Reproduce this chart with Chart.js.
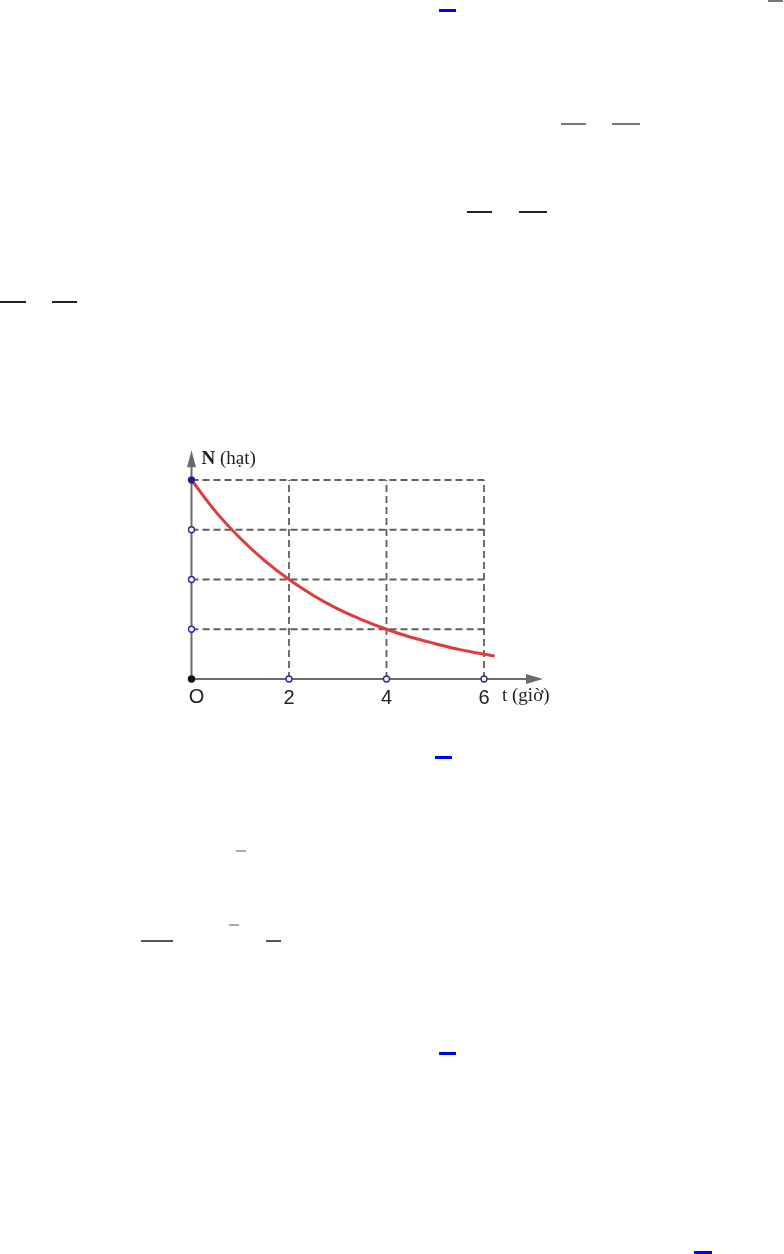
<!DOCTYPE html>
<html>
<head>
<meta charset="utf-8">
<script src="https://cdn.jsdelivr.net/npm/chart.js"></script>
<style>
  html, body { margin: 0; padding: 0; background: #fff; }
  body { width: 784px; height: 1254px; position: relative; overflow: hidden; }
  #wrap { position: absolute; left: 160px; top: 440px; width: 410px; height: 280px; }
  .bar { position: absolute; height: 2px; background: #777; }
  .blue { background: #0000ff; height: 3px; }
  .dark { background: #222; }
  .light { background: #aaa; }
</style>
</head>
<body>
<!-- leftover strokes of the page around the figure -->
<div class="bar blue" style="left:439px;top:9px;width:17px"></div>
<div class="bar" style="left:768px;top:0px;width:15px"></div>
<div class="bar" style="left:561px;top:123px;width:25px"></div>
<div class="bar" style="left:612px;top:123px;width:28px"></div>
<div class="bar dark" style="left:467px;top:211px;width:25px"></div>
<div class="bar dark" style="left:519px;top:211px;width:28px"></div>
<div class="bar dark" style="left:0px;top:301px;width:26px"></div>
<div class="bar dark" style="left:52px;top:301px;width:25px"></div>
<div class="bar blue" style="left:435px;top:756px;width:17px"></div>
<div class="bar light" style="left:236px;top:850px;width:10px"></div>
<div class="bar light" style="left:229px;top:924px;width:10px"></div>
<div class="bar" style="left:141px;top:940px;width:32px;background:#555"></div>
<div class="bar" style="left:266px;top:940px;width:15px;background:#555"></div>
<div class="bar blue" style="left:439px;top:1052px;width:17px"></div>
<div class="bar blue" style="left:694px;top:1251px;width:18px"></div>

<div id="wrap"><canvas id="c" width="410" height="280"></canvas></div>
<script>
// time (giờ) and N in quarters of N0
const tValues = [0, 0.5, 1, 1.5, 2, 2.5, 3, 3.5, 4, 4.5, 5, 5.5, 6, 6.22];
const nValues = [4, 3.36, 2.83, 2.38, 2, 1.68, 1.41, 1.19, 1, 0.84, 0.71, 0.59, 0.5, 0.46];
const xTicks = [2, 4, 6];
const yTicks = [1, 2, 3, 4];
const xTickLabels = ['2', '4', '6'];
const originLabel = 'O';
const xTitle = 't (giờ)';
const yTitle = 'N (hạt)';
const xMax = 6, yMax = 4;

const gridColor = '#5f5f5f';
const axisColor = '#6b6b6b';

const gridSets = [];
yTicks.forEach(v => {
  gridSets.push({ data: [{ x: 0, y: v }, { x: xMax, y: v }] });
});
xTicks.forEach(v => {
  gridSets.push({ data: [{ x: v, y: 0 }, { x: v, y: yMax }] });
});

const markerPts = [{ x: 0, y: 0 }];
const markerFill = ['#111'];
const markerStroke = ['#111'];
yTicks.forEach(v => {
  markerPts.push({ x: 0, y: v });
  markerFill.push(v === yMax ? '#1c1c86' : '#eef');
  markerStroke.push('#2b2b8c');
});
xTicks.forEach(v => {
  markerPts.push({ x: v, y: 0 });
  markerFill.push('#eef');
  markerStroke.push('#2b2b8c');
});

const axesPlugin = {
  id: 'axes',
  beforeDatasetsDraw(chart) {
    const { ctx, scales: { x, y } } = chart;
    const x0 = x.getPixelForValue(0), y0 = y.getPixelForValue(0);
    const xEnd = x.getPixelForValue(7.21), yEnd = y.getPixelForValue(4.6);
    ctx.save();
    ctx.strokeStyle = axisColor;
    ctx.fillStyle = axisColor;
    ctx.lineWidth = 2;
    ctx.beginPath();
    ctx.moveTo(x0, y0); ctx.lineTo(xEnd - 10, y0);
    ctx.moveTo(x0, y0); ctx.lineTo(x0, yEnd + 10);
    ctx.stroke();
    // arrow heads
    ctx.beginPath();
    ctx.moveTo(xEnd, y0); ctx.lineTo(xEnd - 17, y0 - 5); ctx.lineTo(xEnd - 17, y0 + 5); ctx.closePath();
    ctx.fill();
    ctx.beginPath();
    ctx.moveTo(x0, yEnd); ctx.lineTo(x0 - 4.5, yEnd + 17); ctx.lineTo(x0 + 4.5, yEnd + 17); ctx.closePath();
    ctx.fill();
    ctx.restore();
  },
  afterDraw(chart) {
    const { ctx, scales: { x, y } } = chart;
    const x0 = x.getPixelForValue(0), y0 = y.getPixelForValue(0);
    ctx.save();
    ctx.fillStyle = '#222';
    ctx.textBaseline = 'middle';
    ctx.textAlign = 'center';
    ctx.font = '20px "Liberation Sans", Arial, sans-serif';
    ctx.fillText(originLabel, x0 + 5, y0 + 18);
    xTicks.forEach((v, i) => {
      ctx.fillText(xTickLabels[i], x.getPixelForValue(v), y0 + 19);
    });
    ctx.textAlign = 'left';
    ctx.font = '19px "Liberation Serif", "Times New Roman", serif';
    ctx.fillText(xTitle, x.getPixelForValue(xMax) + 18, y0 + 17);
    ctx.textBaseline = 'alphabetic';
    ctx.font = 'bold 19px "Liberation Serif", "Times New Roman", serif';
    ctx.fillText('N', x0 + 10, y.getPixelForValue(yMax) - 16);
    const nw = ctx.measureText('N ').width;
    ctx.font = '19px "Liberation Serif", "Times New Roman", serif';
    ctx.fillText(yTitle.slice(2), x0 + 10 + nw, y.getPixelForValue(yMax) - 16);
    ctx.restore();
  }
};

new Chart(document.getElementById('c'), {
  type: 'scatter',
  data: {
    datasets: [
      {
        data: markerPts,
        showLine: false,
        pointRadius: 3,
        pointBorderWidth: 1.3,
        pointBackgroundColor: markerFill,
        pointBorderColor: markerStroke,
        order: 0
      },
      {
        data: tValues.map((t, i) => ({ x: t, y: nValues[i] })),
        showLine: true,
        borderColor: '#e03a3c',
        borderWidth: 3,
        pointRadius: 0,
        cubicInterpolationMode: 'monotone',
        order: 1
      },
      ...gridSets.map(g => ({
        data: g.data,
        showLine: true,
        borderColor: gridColor,
        borderWidth: 1.8,
        borderDash: [7, 4],
        pointRadius: 0,
        order: 2
      }))
    ]
  },
  options: {
    responsive: false,
    animation: false,
    events: [],
    layout: { padding: 0, autoPadding: false },
    plugins: { legend: { display: false }, tooltip: { enabled: false } },
    scales: {
      x: { type: 'linear', min: -0.646, max: 7.764, display: false },
      y: { type: 'linear', min: -0.824, max: 4.804, display: false }
    }
  },
  plugins: [axesPlugin]
});
</script>
</body>
</html>
